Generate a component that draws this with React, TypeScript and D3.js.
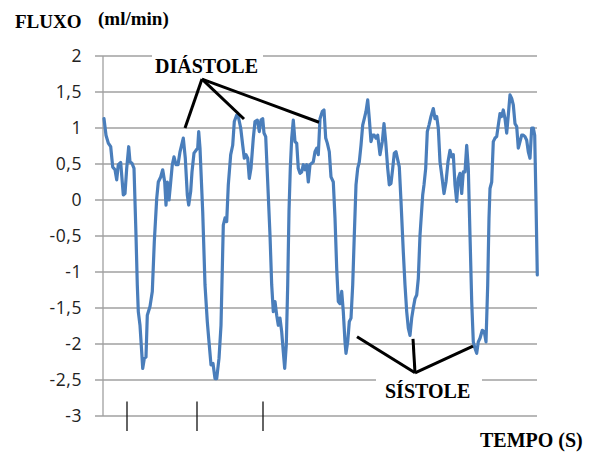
import * as d3 from 'd3';

// time in seconds and flow in ml/min
const TIME = [
  0.01, 0.03, 0.053, 0.077, 0.097, 0.12, 0.137, 0.153, 0.177, 0.203, 0.22, 0.237, 0.257, 0.27, 0.29, 0.31,
  0.33, 0.343, 0.353, 0.37, 0.387, 0.397, 0.413, 0.43, 0.443, 0.47, 0.493, 0.513, 0.537, 0.553, 0.577, 0.597,
  0.617, 0.63, 0.643, 0.66, 0.677, 0.693, 0.71, 0.73, 0.75, 0.77, 0.803, 0.823, 0.843, 0.857, 0.877, 0.89,
  0.91, 0.93, 0.947, 0.957, 0.97, 0.997, 1.02, 1.043, 1.06, 1.08, 1.1, 1.12, 1.137, 1.16, 1.18, 1.203,
  1.22, 1.237, 1.253, 1.277, 1.297, 1.313, 1.337, 1.353, 1.377, 1.397, 1.413, 1.43, 1.447, 1.463, 1.48, 1.503,
  1.52, 1.543, 1.563, 1.58, 1.597, 1.61, 1.627, 1.647, 1.67, 1.687, 1.703, 1.72, 1.737, 1.753, 1.77, 1.787,
  1.803, 1.817, 1.833, 1.847, 1.86, 1.873, 1.887, 1.903, 1.92, 1.937, 1.953, 1.97, 1.987, 2.003, 2.02, 2.037,
  2.053, 2.07, 2.087, 2.103, 2.12, 2.137, 2.153, 2.17, 2.193, 2.21, 2.227, 2.243, 2.263, 2.28, 2.303, 2.32,
  2.337, 2.353, 2.37, 2.387, 2.403, 2.42, 2.43, 2.447, 2.463, 2.48, 2.497, 2.513, 2.53, 2.547, 2.563, 2.58,
  2.597, 2.613, 2.63, 2.647, 2.663, 2.68, 2.697, 2.713, 2.73, 2.747, 2.77, 2.793, 2.81, 2.827, 2.847, 2.863,
  2.88, 2.897, 2.913, 2.93, 2.947, 2.963, 2.98, 3.003, 3.02, 3.037, 3.053, 3.07, 3.087, 3.103, 3.12, 3.137,
  3.153, 3.17, 3.197, 3.21, 3.227, 3.243, 3.26, 3.28, 3.303, 3.32, 3.337, 3.353, 3.37, 3.387, 3.41, 3.43,
  3.45, 3.47, 3.487, 3.503, 3.52, 3.537, 3.553, 3.57, 3.587, 3.603, 3.62, 3.637, 3.653, 3.67, 3.687, 3.703,
  3.72, 3.737, 3.753, 3.77, 3.793, 3.813, 3.83, 3.847, 3.86, 3.87, 3.887, 3.903, 3.92, 3.937, 3.953, 3.97,
  3.987, 4.003, 4.02, 4.037, 4.053, 4.07, 4.087, 4.103, 4.12, 4.137, 4.153, 4.17, 4.187, 4.203, 4.22, 4.237,
  4.253, 4.27, 4.287, 4.303, 4.317, 4.33, 4.343,
];
const FLOW = [
  1.13, 0.9, 0.79, 0.74, 0.46, 0.42, 0.28, 0.49, 0.52, 0.07, 0.09, 0.44, 0.74, 0.53, 0.51, 0.44,
  -0.49, -1.18, -1.55, -1.74, -2.11, -2.34, -2.2, -2.18, -1.6, -1.48, -1.27, -0.58, 0.02, 0.25, 0.32, 0.42,
  0.25, -0.07, 0.25, 0.0, 0.25, 0.49, 0.6, 0.49, 0.49, 0.67, 0.86, 0.58, 0.07, -0.07, 0.12, 0.39,
  0.65, 0.69, 0.72, 0.95, 0.72, -0.16, -1.18, -1.69, -1.97, -2.29, -2.27, -2.48, -2.48, -2.2, -1.74, -0.35,
  -0.25, -0.3, 0.21, 0.63, 0.76, 1.09, 1.18, 1.16, 1.0, 0.76, 0.58, 0.63, 0.58, 0.3, 0.44, 0.86,
  1.09, 1.11, 0.95, 1.11, 1.13, 0.93, 0.88, 0.25, -0.49, -1.18, -1.55, -1.41, -1.6, -1.74, -1.64, -1.83,
  -2.11, -2.34, -2.01, -1.18, -0.16, 0.44, 0.86, 1.11, 0.81, 0.79, 0.44, 0.37, 0.39, 0.49, 0.42, 0.49,
  0.25, 0.49, 0.51, 0.53, 0.67, 0.72, 0.63, 1.13, 1.23, 1.25, 0.86, 0.79, 0.67, 0.32, 0.25, -0.25,
  -0.95, -1.41, -1.44, -1.27, -1.55, -1.97, -2.13, -1.97, -1.69, -1.64, -1.18, -0.49, 0.21, 0.44, 0.53, 0.76,
  1.04, 1.13, 1.23, 1.39, 1.13, 0.81, 0.9, 0.9, 0.86, 0.9, 0.63, 0.81, 1.06, 0.81, 0.44, 0.21,
  0.23, 0.44, 0.65, 0.67, 0.56, 0.46, -0.02, -0.72, -1.18, -1.55, -1.78, -1.88, -1.64, -1.5, -1.37, -1.32,
  -1.09, -0.49, 0.07, 0.21, 0.44, 0.95, 1.04, 1.16, 1.27, 1.13, 1.16, 1.0, 0.53, 0.35, 0.09, 0.25,
  0.53, 0.69, 0.6, 0.63, 0.21, -0.02, 0.3, 0.37, 0.09, 0.39, 0.39, 0.76, 0.44, -0.49, -1.41, -1.97,
  -2.06, -2.13, -1.97, -1.92, -1.81, -1.83, -1.97, -1.18, -0.25, 0.16, 0.25, 0.81, 0.86, 0.88, 1.04, 1.2,
  1.16, 1.25, 1.13, 0.93, 1.18, 1.46, 1.41, 1.32, 1.06, 1.02, 0.72, 0.81, 0.9, 0.9, 0.88, 0.83,
  0.67, 0.58, 1.0, 1.0, 0.9, -0.02, -1.04,
];

const Y_TICKS = [2, 1.5, 1, 0.5, 0, -0.5, -1, -1.5, -2, -2.5, -3];
// hand-drawn marks on the time axis (s)
const TIME_MARKS = [0.24, 0.94, 1.6];

// annotation pointers: label anchor and the points they lead to, as [time, flow]
const DIASTOLE_FROM: [number, number] = [0.99, 1.68];
const DIASTOLE_TO: [number, number][] = [[0.82, 1.0], [1.41, 1.125], [2.16, 1.08]];
const SISTOLE_FROM: [number, number] = [3.12, -2.4];
const SISTOLE_TO: [number, number][] = [[2.54, -1.9], [3.1, -1.93], [3.7, -2.03]];

const width = 592;
const height = 452;

const ptBr = d3.formatLocale({ decimal: ',', thousands: '.', grouping: [3], currency: ['', ''], minus: '-' });
const fmt = ptBr.format('~g');

const App = () => {
  const x = d3.scaleLinear().domain([0, 4.34]).range([103, 537]);
  const y = d3.scaleLinear().domain([-3, 2]).range([416, 56]);

  const points = TIME.map((t, i) => [t, FLOW[i]] as [number, number]);
  const line = d3
    .line<[number, number]>()
    .x((d) => x(d[0]))
    .y((d) => y(d[1]));

  const serif = '"Liberation Serif", "Times New Roman", serif';

  return (
    <svg
      width={width}
      height={height}
      style={{ position: 'absolute', left: 0, top: 0, background: '#fff' }}
    >
      {/* grid */}
      {Y_TICKS.map((v) => (
        <line key={v} x1={95} x2={537} y1={y(v)} y2={y(v)} stroke="#a0a0a0" strokeWidth={1.3} />
      ))}
      <line x1={103} x2={103} y1={y(2)} y2={y(-3)} stroke="#a0a0a0" strokeWidth={1.3} />

      {/* y labels */}
      {Y_TICKS.map((v) => (
        <text
          key={'l' + v}
          x={82}
          y={y(v)}
          dy="0.36em"
          textAnchor="end"
          fontFamily='"Open Sans", sans-serif'
          fontSize={17.5}
          letterSpacing={0.6}
          fill="#222"
        >
          {fmt(v)}
        </text>
      ))}

      {/* marks on time axis */}
      {TIME_MARKS.map((t) => (
        <line key={t} x1={x(t)} x2={x(t)} y1={y(-2.8)} y2={y(-3.21)} stroke="#111" strokeWidth={1.3} />
      ))}

      {/* white patches behind labels */}
      <rect x={152} y={50} width={111} height={12} fill="#fff" />
      <rect x={376} y={372} width={106} height={14} fill="#fff" />

      {/* flow trace */}
      <path
        d={line(points) ?? ''}
        fill="none"
        stroke="#4a7ebb"
        strokeWidth={3.2}
        strokeLinejoin="round"
        strokeLinecap="round"
      />

      {/* annotation pointers */}
      {DIASTOLE_TO.map((p, i) => (
        <line
          key={'d' + i}
          x1={x(DIASTOLE_FROM[0])}
          y1={y(DIASTOLE_FROM[1])}
          x2={x(p[0])}
          y2={y(p[1])}
          stroke="#000"
          strokeWidth={3}
        />
      ))}
      {SISTOLE_TO.map((p, i) => (
        <line
          key={'s' + i}
          x1={x(SISTOLE_FROM[0])}
          y1={y(SISTOLE_FROM[1])}
          x2={x(p[0])}
          y2={y(p[1])}
          stroke="#000"
          strokeWidth={3}
        />
      ))}

      {/* texts */}
      <g fontFamily={serif} fontWeight="bold" fill="#000">
        <text x={15} y={28} fontSize={19}>FLUXO</text>
        <text x={98} y={25} fontSize={19}>(ml/min)</text>
        <text x={155} y={73} fontSize={20}>DIÁSTOLE</text>
        <text x={385} y={398} fontSize={20}>SÍSTOLE</text>
        <text x={480} y={447} fontSize={20}>TEMPO (S)</text>
      </g>
    </svg>
  );
};

export default App;
